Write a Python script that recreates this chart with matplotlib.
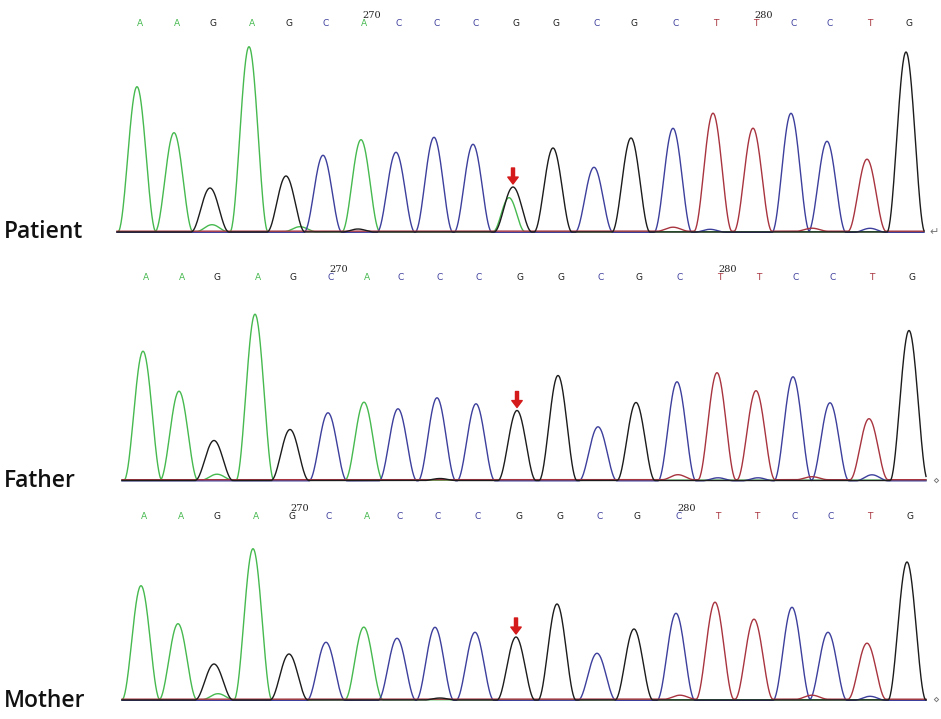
import numpy as np
import matplotlib
matplotlib.use("Agg")
import matplotlib.pyplot as plt

# base calls (same read for all three samples)
bases = list("AAGAGCACCCGGCGCTTCCTG")

# peak positions (scan) and peak heights
patient_pos = [137, 174, 210, 249, 286, 323, 361, 396, 434, 473, 513,
               553, 594, 631, 673, 713, 753, 791, 827, 867, 906]
patient_hgt = [145, 99, 44, 185, 56, 77, 92, 80, 95, 88, 45,
               84, 65, 94, 104, 118, 103, 119, 91, 72, 180]
father_pos = [143, 179, 214, 255, 290, 328, 364, 398, 437, 476, 517,
              558, 598, 636, 677, 717, 756, 793, 830, 869, 909]
father_hgt = [129, 89, 40, 166, 51, 68, 78, 72, 83, 77, 70,
              105, 54, 78, 99, 107, 89, 104, 78, 61, 150]
mother_pos = [141, 178, 214, 253, 289, 326, 364, 397, 435, 475, 516,
              557, 597, 634, 676, 715, 754, 792, 828, 867, 907]
mother_hgt = [114, 76, 36, 151, 46, 58, 70, 62, 73, 68, 63,
              96, 47, 71, 87, 97, 80, 93, 68, 56, 138]

# small secondary signals (channel, scan, height)
patient_minor = [("A", 509, 34), ("A", 212, 7), ("A", 300, 5), ("G", 358, 3),
                 ("T", 673, 4), ("C", 710, 3), ("C", 870, 4), ("T", 812, 3)]
father_minor = [("A", 217, 6), ("T", 678, 5), ("C", 718, 3), ("C", 758, 3),
                ("T", 812, 3), ("C", 872, 6), ("G", 440, 2)]
mother_minor = [("A", 218, 6), ("A", 360, 3), ("T", 680, 4), ("T", 812, 4),
                ("C", 870, 4), ("G", 440, 2)]

# ruler numbers: number -> index of base it sits on
patient_ruler = {270: 6, 280: 16}
father_ruler = {270: 5, 280: 15}
mother_ruler = {270: 4, 280: 14}

mutation_idx = 10

colors = {"A": "#46b94f", "C": "#3d3f9c", "G": "#1c1c1c", "T": "#a8343f"}
arrow_red = "#d41a1a"

W, H = 941, 719
fig = plt.figure(figsize=(W / 100, H / 100), dpi=100)


def peak(x, c, h, hw=19.0):
    d = np.clip((x - c) / hw, -1, 1)
    return h * np.cos(d * np.pi / 2) ** 2


def panel(name, pos, hgt, minor, ruler, top, bottom, base, letter_px,
          x0, x1, label_px, end_mark):
    ax = fig.add_axes([0, 1 - bottom / H, 1, (bottom - top) / H])
    ax.set_xlim(0, W)
    ax.set_ylim(base - bottom, base - top)
    ax.axis("off")

    x = np.linspace(x0, x1, 1600)
    for ch in ["A", "C", "T", "G"]:
        y = np.zeros_like(x)
        for b, c, h in zip(bases, pos, hgt):
            if b == ch:
                y += peak(x, c, h)
        for mc, c, h in minor:
            if mc == ch:
                y += peak(x, c, h, 16)
        off = {"A": 0.3, "C": -0.3, "T": 0.8, "G": 0}[ch]
        ax.plot(x, y + off, color=colors[ch], lw=1.0, solid_joinstyle="round")

    ly = base - letter_px
    for b, c in zip(bases, pos):
        ax.text(c + 3, ly, b, color=colors[b], fontsize=6.5, ha="center",
                va="center", family="DejaVu Sans")
    for num, i in ruler.items():
        ax.text(pos[i] + 1, ly + 8, str(num), color="#222222", fontsize=7,
                ha="left", va="center", family="DejaVu Serif")

    # mutation arrow
    xm, hm = pos[mutation_idx], hgt[mutation_idx]
    ax.annotate("", xy=(xm, hm + 3), xytext=(xm, hm + 19),
                arrowprops=dict(facecolor=arrow_red, edgecolor=arrow_red,
                                width=2.2, headwidth=7.5, headlength=5,
                                shrink=0))

    ax.text(x1 + 10, 0, end_mark, color="#777777", fontsize=8,
            ha="center", va="center", family="DejaVu Sans")

    fig.text(4 / W, 1 - label_px / H, name, fontsize=16.5, fontweight="semibold",
             family=["Open Sans", "Noto Sans", "DejaVu Sans"], ha="left",
             va="baseline", color="#111111")


panel("Patient", patient_pos, patient_hgt, patient_minor, patient_ruler,
      0, 245, 232, 23, 117, 924, 238, "\u21b5")
panel("Father", father_pos, father_hgt, father_minor, father_ruler,
      245, 490, 480.5, 277.7, 122, 926, 487, "\u22c4")
panel("Mother", mother_pos, mother_hgt, mother_minor, mother_ruler,
      490, 719, 700, 516.7, 122, 926, 707, "\u22c4")

fig.savefig("out.png", dpi=100)
plt.close(fig)
